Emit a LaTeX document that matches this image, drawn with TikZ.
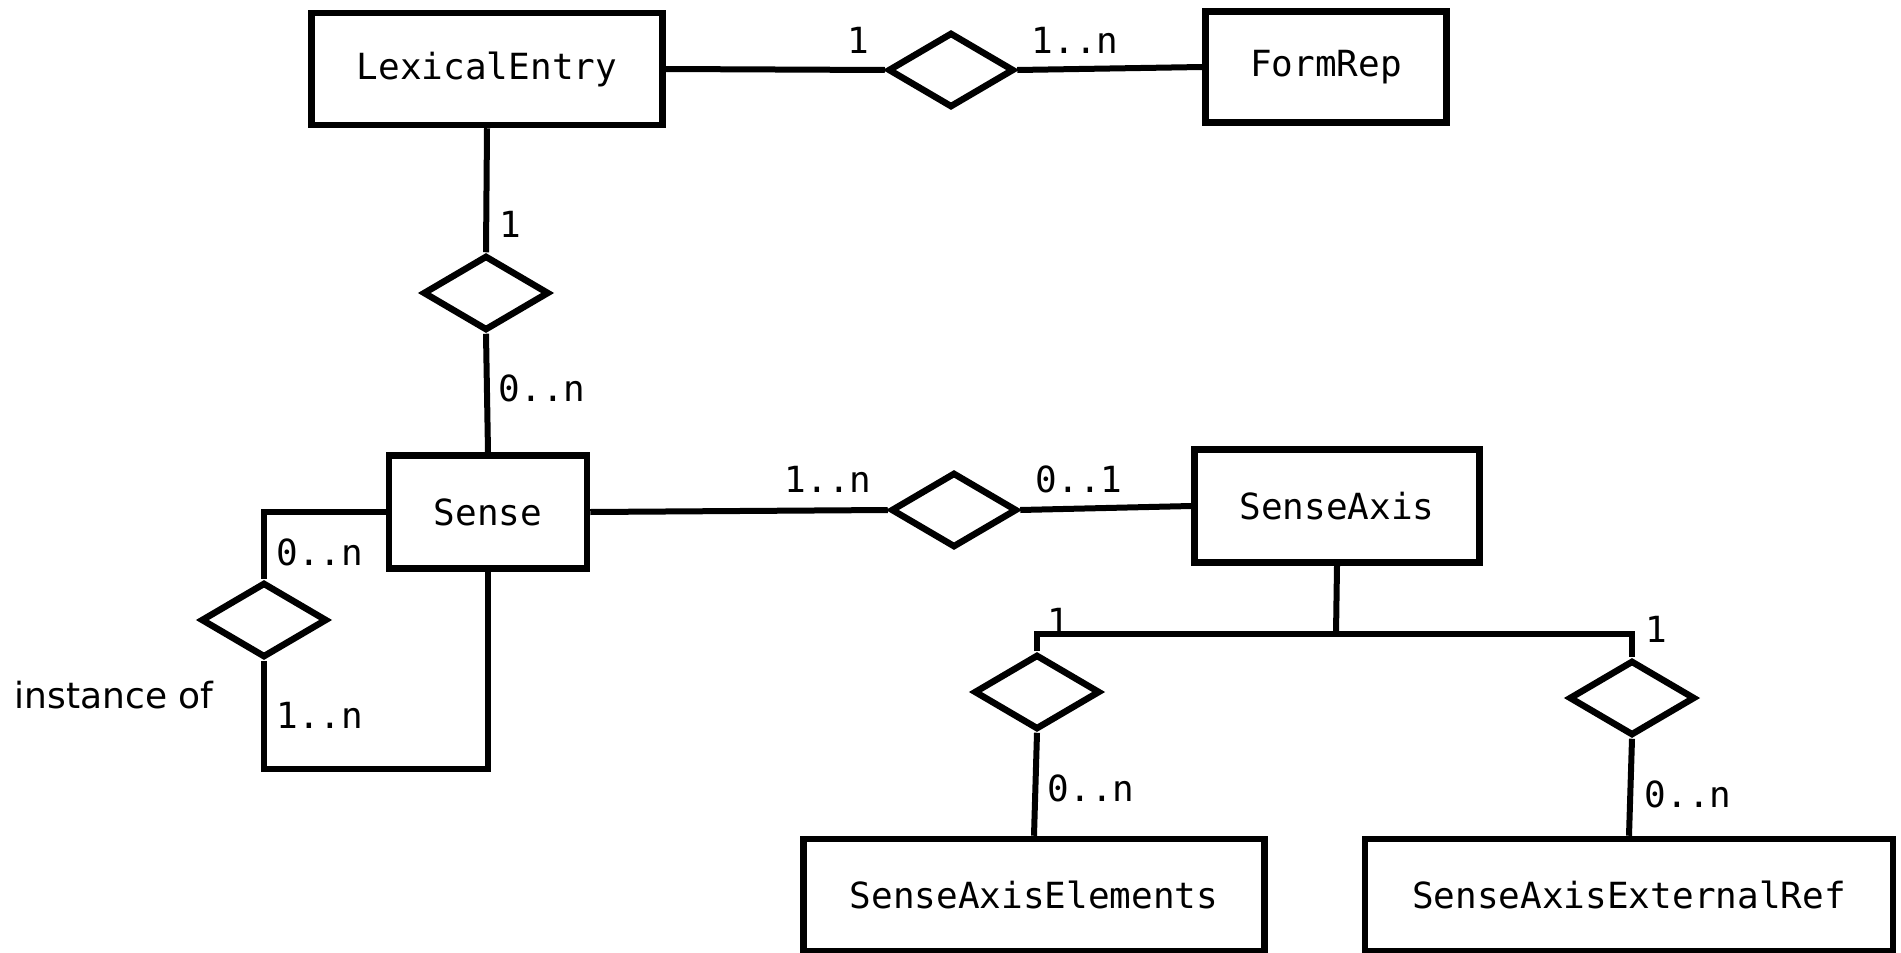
\documentclass[tikz,border=0pt]{standalone}
\usepackage{fontspec}
\setmainfont{DejaVu Sans}
\newfontfamily\monofont{DejaVu Sans Mono}
\usetikzlibrary{shapes.geometric}
\begin{document}
\begin{tikzpicture}[x=1pt,y=-1pt,
  entity/.style={draw, line width=6.5pt, inner sep=0pt, font=\monofont\fontsize{36}{40}\selectfont},
  rel/.style={draw, shape=diamond, line width=6.5pt, inner sep=0pt, minimum width=126pt, minimum height=75pt},
  conn/.style={line width=6pt},
  card/.style={inner sep=0pt, font=\monofont\fontsize{36}{40}\selectfont},
  plain/.style={inner sep=0pt, font=\fontsize{36}{40}\selectfont}]
\useasboundingbox (0,0) rectangle (1901,953);
% entities
\node[entity, minimum width=351pt, minimum height=112pt] (le) at (487,69) {LexicalEntry};
\node[entity, minimum width=241pt, minimum height=111pt] (fr) at (1326,67) {FormRep};
\node[entity, minimum width=198pt, minimum height=113pt] (se) at (488,512) {Sense};
\node[entity, minimum width=285pt, minimum height=113pt] (sa) at (1337,506) {SenseAxis};
\node[entity, minimum width=461pt, minimum height=112pt] (sae) at (1034,895) {SenseAxisElements};
\node[entity, minimum width=528pt, minimum height=112pt] (saer) at (1629,895) {SenseAxisExternalRef};
% relationships
\node[rel] (d1) at (951,70) {};
\node[rel] (d2) at (486,293) {};
\node[rel] (d3) at (954,510) {};
\node[rel] (d4) at (1037,692) {};
\node[rel] (d5) at (1632,698) {};
\node[rel] (d6) at (264,620) {};
% junction coordinates
\coordinate (j) at (1336,634);
\coordinate (jl) at (1037,634);
\coordinate (jr) at (1632,634);
\coordinate (lp) at (264,769);
% connectors
\draw[conn] (le.east) -- (d1.west);
\draw[conn] (d1.east) -- (fr.west);
\draw[conn] (le.south) -- (d2.north);
\draw[conn] (d2.south) -- (se.north);
\draw[conn] (se.east) -- (d3.west);
\draw[conn] (d3.east) -- (sa.west);
\draw[conn] (sa.south) -- (j);
\draw[conn] (d4.north) -- (jl) -- (jr) -- (d5.north);
\draw[conn] (d4.south) -- (sae.north);
\draw[conn] (d5.south) -- (saer.north);
\draw[conn] (se.west) -| (d6.north);
\draw[conn] (d6.south) -- (lp) -| (se.south);
% cardinalities
\node[card] (c1) at (858,40) {1};
\node[card] (c2) at (1075,40) {1..n};
\node[card] (c3) at (510,224) {1};
\node[card] (c4) at (542,388) {0..n};
\node[card] (c5) at (828,479) {1..n};
\node[card] (c6) at (1079,479) {0..1};
\node[card] (c7) at (320,552) {0..n};
\node[card] (c8) at (320,715) {1..n};
\node[card] (c9) at (1058,621) {1};
\node[card] (c10) at (1656,629) {1};
\node[card] (c11) at (1091,788) {0..n};
\node[card] (c12) at (1688,794) {0..n};
\node[plain] (inst) at (114,695) {instance of};
\end{tikzpicture}
\end{document}
